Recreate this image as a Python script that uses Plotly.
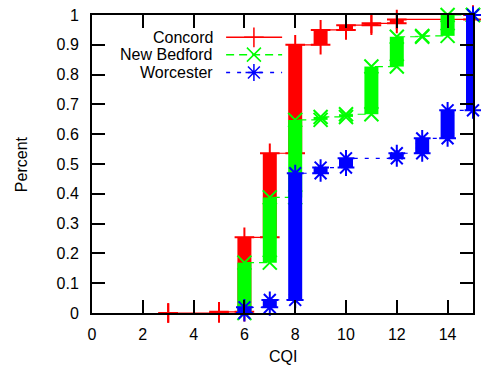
import plotly.graph_objects as go

# ---- data (CDF of CQI: for each CQI value, cumulative fraction before and after) ----
concord_cqi = [3, 5, 6, 7, 8, 9, 10, 11, 12, 15]
concord_lo = [0.0, 0.0, 0.004, 0.254, 0.536, 0.900, 0.950, 0.966, 0.972, 0.985]
concord_hi = [0.0, 0.004, 0.254, 0.536, 0.900, 0.950, 0.966, 0.972, 0.985, 1.000]

newbedford_cqi = [6, 7, 8, 9, 10, 11, 12, 13, 14, 15]
newbedford_lo = [0.0, 0.169, 0.388, 0.648, 0.658, 0.667, 0.827, 0.927, 0.930, 1.000]
newbedford_hi = [0.169, 0.388, 0.648, 0.658, 0.667, 0.827, 0.927, 0.930, 1.000, 1.000]

worcester_cqi = [6, 7, 8, 9, 10, 12, 13, 14, 15]
worcester_lo = [0.0, 0.019, 0.044, 0.469, 0.488, 0.519, 0.536, 0.586, 0.680]
worcester_hi = [0.019, 0.044, 0.469, 0.488, 0.519, 0.536, 0.586, 0.680, 1.000]

series_names = ["Concord", "New Bedford", "Worcester"]
x_ticks = [0, 2, 4, 6, 8, 10, 12, 14]
y_ticks = [0, 0.1, 0.2, 0.3, 0.4, 0.5, 0.6, 0.7, 0.8, 0.9, 1]

series = [
    (concord_cqi, concord_lo, concord_hi),
    (newbedford_cqi, newbedford_lo, newbedford_hi),
    (worcester_cqi, worcester_lo, worcester_hi),
]
colors = ["#ff0000", "#00ff00", "#0000ff"]
dashes = ["solid", "8px,5px", "4px,7px"]
symbols = ["cross-thin", "x-thin", "asterisk-open"]
FONT = "Liberation Sans, Arial, sans-serif"

fig = go.Figure()

for (cqi, lo, hi), color, dash, sym, name in zip(series, colors, dashes, symbols, series_names):
    # connecting step line
    lx, ly = [], []
    for c, a, b in zip(cqi, lo, hi):
        lx += [c, c]
        ly += [a, b]
    fig.add_trace(go.Scatter(x=lx, y=ly, mode="lines", line=dict(color=color, width=1.2, dash=dash),
                             hoverinfo="skip", showlegend=False))
    # dense stack of points -> thick vertical band
    bx, by = [], []
    for c, a, b in zip(cqi, lo, hi):
        bx += [c, c, None]
        by += [a, b, None]
    fig.add_trace(go.Scatter(x=bx, y=by, mode="lines", line=dict(color=color, width=14),
                             hoverinfo="skip", showlegend=False))
    # markers at both ends of each band
    mx = list(cqi) + list(cqi)
    my = list(lo) + list(hi)
    fig.add_trace(go.Scatter(x=mx, y=my, mode="markers", cliponaxis=False,
                             marker=dict(symbol=sym, size=14, color=color,
                                         line=dict(color=color, width=2)),
                             name=name, showlegend=False))

# ---- manual gnuplot-style legend (text, then sample line with marker) ----
leg_y = [0.925, 0.867, 0.807]
for name, color, dash, sym, yy in zip(series_names, colors, dashes, symbols, leg_y):
    fig.add_annotation(x=0.322, y=yy, xref="paper", yref="paper", text=name, showarrow=False,
                       xanchor="right", yanchor="middle", font=dict(family=FONT, size=16, color="black"))
    fig.add_trace(go.Scatter(x=[0.352, 0.425, 0.499], y=[yy, yy, yy], xaxis="x2", yaxis="y2",
                             mode="lines", line=dict(color=color, width=1.5, dash=dash),
                             hoverinfo="skip", showlegend=False))
    fig.add_trace(go.Scatter(x=[0.425], y=[yy], xaxis="x2", yaxis="y2", mode="markers",
                             cliponaxis=False,
                             marker=dict(symbol=sym, size=14, color=color, line=dict(color=color, width=1.5)),
                             hoverinfo="skip", showlegend=False))

axis_common = dict(showgrid=False, zeroline=False, showline=True, linecolor="black", linewidth=2,
                   mirror="allticks", ticks="inside", ticklen=13, tickwidth=2, tickcolor="black",
                   tickfont=dict(family=FONT, size=16, color="black"))

fig.update_layout(
    width=481, height=368,
    margin=dict(l=92, r=6, t=15, b=55),
    paper_bgcolor="white", plot_bgcolor="white",
    showlegend=False,
    xaxis=dict(range=[0, 15], tickvals=x_ticks, ticktext=[str(v) for v in x_ticks],
               ticklabelstandoff=6, **axis_common),
    yaxis=dict(range=[0, 1], tickvals=y_ticks, ticktext=[("%g" % v) for v in y_ticks],
               ticklabelstandoff=8, **axis_common),
    xaxis2=dict(range=[0, 1], overlaying="x", visible=False, fixedrange=True),
    yaxis2=dict(range=[0, 1], overlaying="y", visible=False, fixedrange=True),
)

fig.add_annotation(x=0.5, y=-0.145, xref="paper", yref="paper", text="CQI", showarrow=False,
                   yanchor="middle", font=dict(family=FONT, size=16, color="black"))
fig.add_annotation(x=-0.186, y=0.5, xref="paper", yref="paper", text="Percent", showarrow=False,
                   textangle=-90, xanchor="center", yanchor="middle",
                   font=dict(family=FONT, size=16, color="black"))

fig.write_html("out.html")
